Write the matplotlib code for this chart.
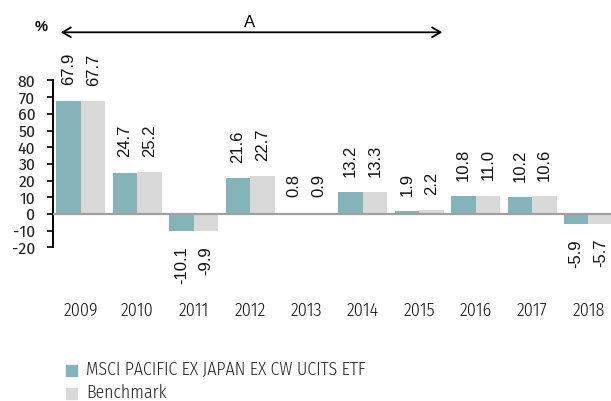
import matplotlib
matplotlib.use("Agg")
import matplotlib.pyplot as plt
import numpy as np

# chart data
years = ["2009", "2010", "2011", "2012", "2013", "2014", "2015", "2016", "2017", "2018"]
fund = [67.9, 24.7, -10.1, 21.6, 0.8, 13.2, 1.9, 10.8, 10.2, -5.9]
benchmark = [67.7, 25.2, -9.9, 22.7, 0.9, 13.3, 2.2, 11.0, 10.6, -5.7]
series_names = ["MSCI PACIFIC EX JAPAN EX CW UCITS ETF", "Benchmark"]

teal = "#84B4BA"
grey = "#D9D9D9"
narrow = ["Fira Sans Condensed", "DejaVu Sans"]
regular = ["Liberation Sans", "DejaVu Sans"]


def main():
    fig = plt.figure(figsize=(6.11, 4.01), dpi=100)
    ax = fig.add_axes([0.0862, 0.383, 0.9138, 0.4165])

    x = np.arange(len(years))
    w = 0.435
    ax.bar(x - w / 2, fund, width=w, color=teal, zorder=2)
    ax.bar(x + w / 2, benchmark, width=w, color=grey, zorder=2)

    # value labels, rotated
    for xs, vals in [(x - w / 2, fund), (x + w / 2, benchmark)]:
        for xi, v in zip(xs, vals):
            off = 11 if v >= 0 else -11
            ax.annotate(f"{v:.1f}", (xi, v), xytext=(0, off), textcoords="offset points",
                        rotation=90, ha="center", va="bottom" if v >= 0 else "top",
                        fontsize=12, family=regular, color="#111111")

    ax.axhline(0, color="#A0A0A0", lw=1.6, zorder=3)

    ax.set_xlim(-0.5, 9.4)
    ax.set_ylim(-20, 80)
    ax.set_yticks(range(-20, 81, 10))
    ax.set_yticklabels([str(t) for t in range(-20, 81, 10)], family=narrow,
                       fontsize=12.5, color="#222222")
    ax.tick_params(axis="y", direction="out", length=4.5, width=1.2, pad=8, color="black")

    ax.set_xticks(x)
    ax.set_xticklabels(years, family=narrow, fontsize=13, fontweight=300, color="#111111")
    ax.tick_params(axis="x", length=0, pad=39)

    for side in ["top", "right", "bottom"]:
        ax.spines[side].set_visible(False)
    ax.spines["left"].set_linewidth(1.4)
    ax.spines["left"].set_color("black")

    # period arrow with label
    fig.add_artist(matplotlib.patches.FancyArrowPatch(
        (58 / 611, 1 - 32.3 / 401), (445 / 611, 1 - 32.3 / 401),
        transform=fig.transFigure, arrowstyle="<->,head_length=6,head_width=3.5",
        color="black", lw=1.3))
    fig.text(250 / 611, 1 - 22.5 / 401, "A", ha="center", va="center",
             fontsize=12, family=regular)
    fig.text(40.7 / 611, 1 - 27 / 401, "%", ha="center", va="center",
             fontsize=10.5, family=regular, fontweight="bold")

    # legend built by hand
    for i, (name, col) in enumerate(zip(series_names, [teal, grey])):
        yc = 1 - (370 + i * 23) / 401
        fig.add_artist(matplotlib.patches.Rectangle(
            (66 / 611, yc - 5.5 / 401), 11 / 611, 11 / 401,
            transform=fig.transFigure, color=col))
        fig.text(86 / 611, yc, name, ha="left", va="center",
                 fontsize=12.8, family=narrow, fontweight=300, color="#222222")

    fig.savefig("out.png", dpi=100)


if __name__ == "__main__":
    main()
